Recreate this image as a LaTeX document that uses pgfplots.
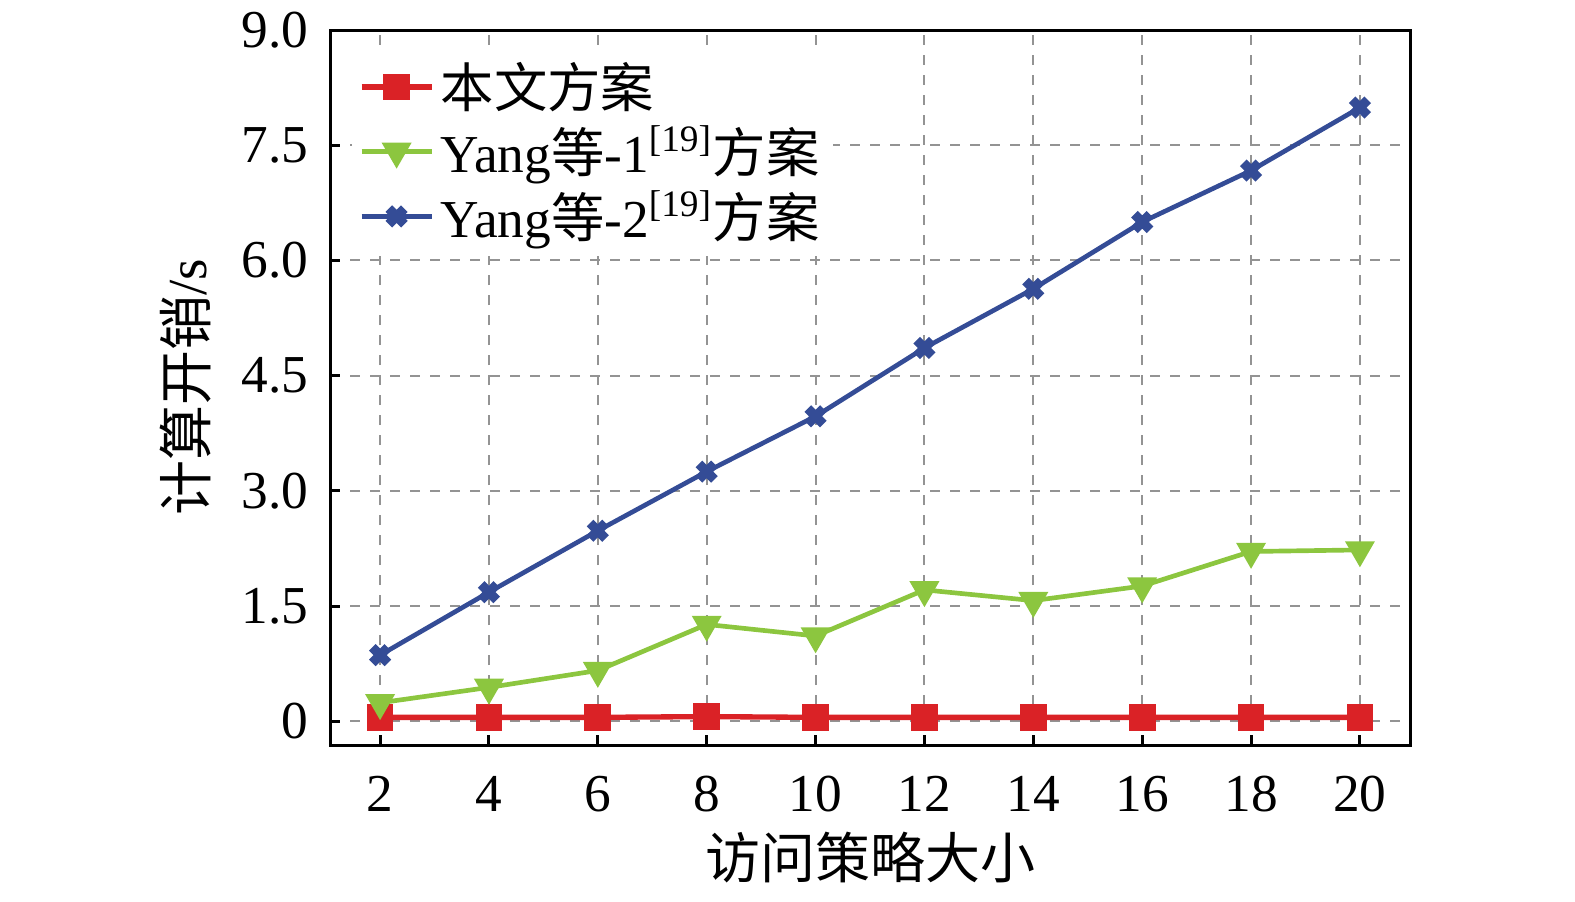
\documentclass[border=0pt]{standalone}
\usepackage{fontspec}
\setmainfont{Liberation Serif}
\newfontfamily\cjk{Noto Sans CJK SC}
\usepackage{pgfplots}
\pgfplotsset{compat=1.18}
\definecolor{cred}{RGB}{218,34,38}
\definecolor{cgreen}{RGB}{140,198,63}
\definecolor{cblue}{RGB}{52,76,150}
\begin{document}
\begin{tikzpicture}
\path (-99pt,-46.8pt) rectangle (373.5pt,223.5pt);
\begin{axis}[
  at={(0,0)}, anchor=south west,
  scale only axis, width=324pt, height=214.5pt,
  xmin=1.08, xmax=20.92, ymin=-0.31, ymax=9.0,
  xtick={2,4,...,20},
  ytick={0,1.5,3,4.5,6,7.5,9},
  yticklabels={0,1.5,3.0,4.5,6.0,7.5,9.0},
  /pgf/number format/assume math mode=true,
  tick pos=left, tick align=inside,
  major tick length=3pt,
  tick style={black, line width=0.9pt},
  axis line style={black, line width=0.9pt},
  grid=major,
  major grid style={dashed, gray!85, line width=0.6pt},
  ticklabel style={font=\fontsize{16}{19}\selectfont},
  xticklabel style={anchor=base, yshift=-20pt},
  yticklabel style={xshift=-3pt},
  xlabel={\cjk 访问策略大小},
  ylabel={{\cjk 计算开销}/s},
  label style={font=\fontsize{16.5}{19}\selectfont},
  xlabel style={at={(axis description cs:0.5,-0.158)}, anchor=center},
  ylabel style={at={(axis description cs:-0.134,0.5)}, anchor=center, rotate=0},
  legend style={at={(axis description cs:0.02,0.975)}, anchor=north west,
    draw=none, fill=white, font=\fontsize{16}{18}\selectfont,
    row sep=0pt, inner sep=2pt},
  legend cell align=left,
  legend image code/.code={\draw[mark repeat=2,mark phase=2] plot coordinates {(0pt,0pt) (10.5pt,0pt) (21pt,0pt)};},
]
\addplot[cred, line width=1.6pt, mark=square*, mark size=3.2pt, mark options={solid}] coordinates {
(2,0.05) (4,0.05) (6,0.05) (8,0.06) (10,0.05) (12,0.05) (14,0.05) (16,0.05) (18,0.05) (20,0.05)};
\addlegendentry{\cjk 本文方案}
\addplot[cgreen, line width=1.4pt, mark=triangle*, mark size=3.8pt, mark options={solid, rotate=180}] coordinates {
(2,0.24) (4,0.44) (6,0.66) (8,1.26) (10,1.11) (12,1.71) (14,1.57) (16,1.76) (18,2.21) (20,2.23)};
\addlegendentry{Yang{\cjk 等}-1\textsuperscript{[19]}{\cjk 方案}}
\addplot[cblue, line width=1.4pt, mark=x, mark size=3.3pt, mark options={solid, line width=2.8pt}] coordinates {
(2,0.86) (4,1.68) (6,2.48) (8,3.25) (10,3.97) (12,4.86) (14,5.63) (16,6.50) (18,7.17) (20,7.99)};
\addlegendentry{Yang{\cjk 等}-2\textsuperscript{[19]}{\cjk 方案}}
\end{axis}
\end{tikzpicture}
\end{document}
